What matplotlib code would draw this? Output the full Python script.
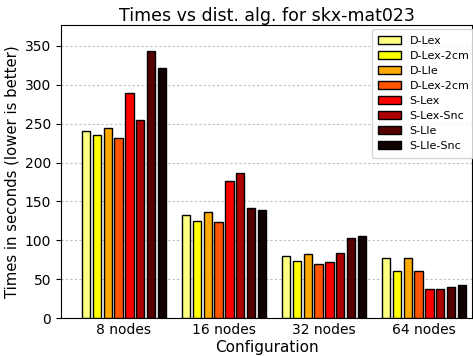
import numpy as np
import matplotlib
matplotlib.use('Agg')
import matplotlib.pyplot as plt

# Data
configs = ['8 nodes', '16 nodes', '32 nodes', '64 nodes']
algs = ['D-Lex', 'D-Lex-2cm', 'D-Lle', 'D-Lex-2cm', 'S-Lex', 'S-Lex-Snc', 'S-Lle', 'S-Lle-Snc']
colors = ['#ffff80', '#ffff00', '#ffaa00', '#ff5500', '#ff0000', '#aa0000', '#550000', '#100000']

d_lex      = [241, 132, 80, 77]
d_lex_2cm  = [235, 125, 73, 61]
d_lle      = [245, 136, 82, 77]
d_lex_2cm2 = [232, 123, 69, 60]
s_lex      = [290, 176, 72, 37]
s_lex_snc  = [255, 186, 84, 37]
s_lle      = [343, 142, 103, 40]
s_lle_snc  = [322, 139, 106, 43]

series = [d_lex, d_lex_2cm, d_lle, d_lex_2cm2, s_lex, s_lex_snc, s_lle, s_lle_snc]

fig = plt.figure(figsize=(4.73, 3.56), dpi=100)
ax = fig.add_axes([61/473, 1 - 318/356, 411/473, 293/356])

x = np.arange(len(configs))
pitch = 0.108
width = 0.085
for i, (vals, name, col) in enumerate(zip(series, algs, colors)):
    off = (i - 3.5) * pitch
    ax.bar(x + off, vals, width, color=col, edgecolor='black', linewidth=1.0,
           label=name, zorder=3)

ax.set_xlim(-0.63, 3.48)
ax.set_ylim(0, 377)
ax.set_yticks(np.arange(0, 351, 50))
ax.set_xticks(x)
ax.set_xticklabels(configs, fontsize=10)
ax.tick_params(axis='x', length=0)
ax.tick_params(axis='y', labelsize=10)
ax.yaxis.grid(True, linestyle=(0, (2, 2)), color='#c0c0c0', linewidth=0.8, zorder=0)
ax.set_axisbelow(True)

ax.set_title('Times vs dist. alg. for skx-mat023', fontsize=12.5, pad=3)
ax.set_xlabel('Configuration', fontsize=11, labelpad=2)
ax.set_ylabel('Times in seconds (lower is better)', fontsize=10.7)

ax.legend(loc='upper right', bbox_to_anchor=(1.01, 0.985), borderaxespad=0,
          fontsize=8, handlelength=2.0, labelspacing=0.45, borderpad=0.6)

plt.savefig('out.png', dpi=100)
